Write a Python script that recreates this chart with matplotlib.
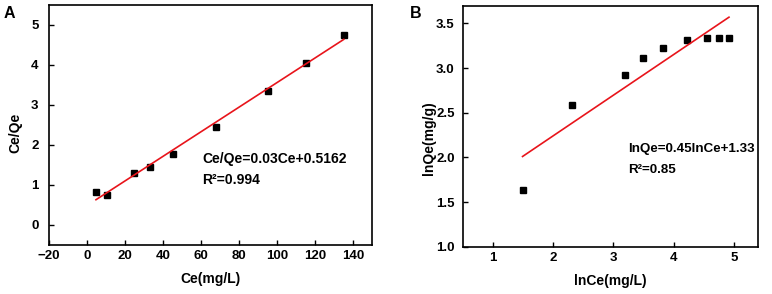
"""
Langmuir (A) and Freundlich (B) isotherm fits
"""

import matplotlib

matplotlib.use("Agg")
import matplotlib.pyplot as plt

# Panel A: Langmuir linear form
ce = [4.7, 10.5, 24.8, 32.9, 45.3, 67.7, 95.4, 115.1, 135.1]
ce_qe = [0.83, 0.74, 1.29, 1.45, 1.78, 2.45, 3.36, 4.05, 4.74]
fit_a_x = [4.7, 135.1]
fit_a_y = [0.63, 4.64]
eq_a = "Ce/Qe=0.03Ce+0.5162"
r2_a = "R²=0.994"

# Panel B: Freundlich linear form
ln_ce = [1.49, 2.31, 3.20, 3.49, 3.82, 4.23, 4.56, 4.75, 4.92]
ln_qe = [1.64, 2.59, 2.92, 3.11, 3.22, 3.31, 3.34, 3.34, 3.34]
fit_b_x = [1.49, 4.92]
fit_b_y = [2.01, 3.57]
eq_b = "lnQe=0.45lnCe+1.33"
r2_b = "R²=0.85"

plt.rcParams["font.family"] = ["Liberation Sans", "DejaVu Sans"]
plt.rcParams["font.weight"] = "bold"
plt.rcParams["axes.labelweight"] = "bold"

fig = plt.figure(figsize=(7.72, 2.94), dpi=100)
axA = fig.add_axes([0.0635, 0.167, 0.4185, 0.816])
axB = fig.add_axes([0.5997, 0.161, 0.382, 0.820])


def style(ax, ypad):
    for s in ax.spines.values():
        s.set_linewidth(1.2)
    ax.tick_params(direction="in", length=3.5, width=1.0, labelsize=9.5)
    ax.tick_params(axis="x", pad=4)
    ax.tick_params(axis="y", pad=ypad)
    for lab in ax.get_xticklabels() + ax.get_yticklabels():
        lab.set_fontweight("bold")


axA.plot(ce, ce_qe, "s", color="black", markersize=4)
axA.plot(fit_a_x, fit_a_y, color="#e8141b", linewidth=1.2)
axA.set_xlim(-20, 150)
axA.set_ylim(-0.5, 5.5)
axA.set_xticks(range(-20, 141, 20))
axA.set_yticks(range(0, 6))
axA.set_xlabel("Ce(mg/L)", fontsize=10, labelpad=7)
axA.set_ylabel("Ce/Qe", fontsize=10)
axA.yaxis.set_label_coords(-0.084, 0.465)
axA.text(0.474, 0.358, eq_a, transform=axA.transAxes, fontsize=10, va="center")
axA.text(0.474, 0.27, r2_a, transform=axA.transAxes, fontsize=10, va="center")
style(axA, 7.5)

axB.plot(ln_ce, ln_qe, "s", color="black", markersize=4)
axB.plot(fit_b_x, fit_b_y, color="#e8141b", linewidth=1.2)
axB.set_xlim(0.5, 5.4)
axB.set_ylim(1.0, 3.7)
axB.set_xticks([1, 2, 3, 4, 5])
axB.set_yticks([1.0, 1.5, 2.0, 2.5, 3.0, 3.5])
axB.set_yticklabels(["1.0", "1.5", "2.0", "2.5", "3.0", "3.5"])
axB.set_xlabel("lnCe(mg/L)", fontsize=10, labelpad=7)
axB.set_ylabel("lnQe(mg/g)", fontsize=10)
axB.yaxis.set_label_coords(-0.0915, 0.45)
axB.text(0.56, 0.404, eq_b, transform=axB.transAxes, fontsize=9.6, va="center")
axB.text(0.56, 0.32, r2_b, transform=axB.transAxes, fontsize=9.6, va="center")
style(axB, 6)

fig.text(0.005, 0.955, "A", fontsize=11.5, fontweight="bold", va="center")
fig.text(0.531, 0.955, "B", fontsize=11.5, fontweight="bold", va="center")

fig.savefig("out.png", dpi=100)
